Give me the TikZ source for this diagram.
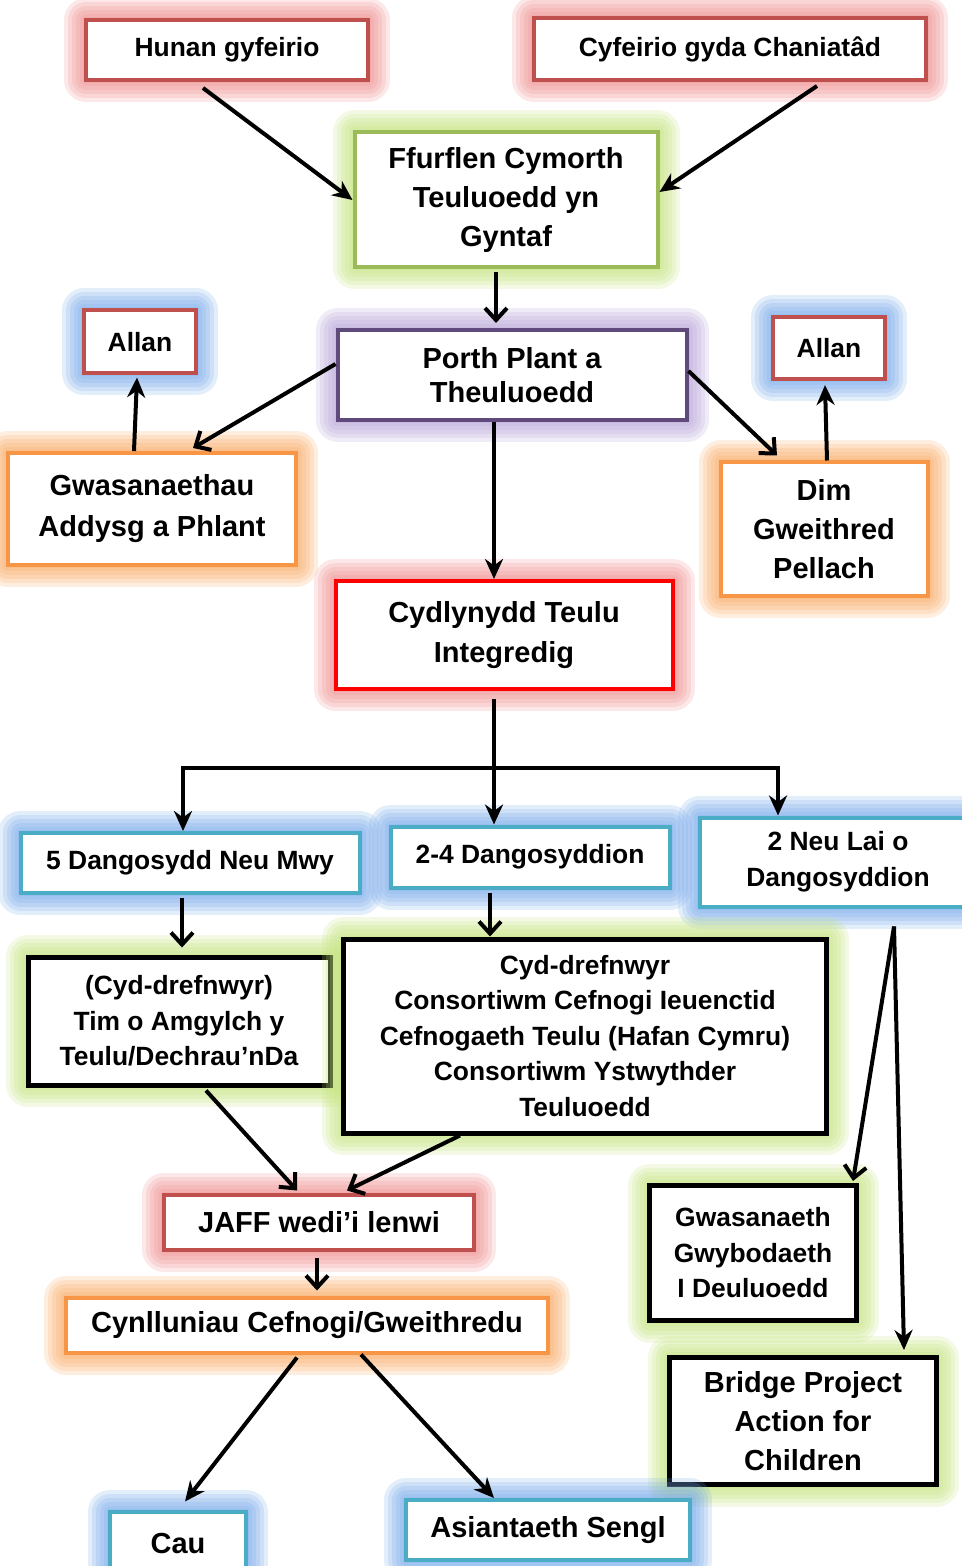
\documentclass[tikz,border=0pt]{standalone}
\usepackage{fontspec}
\setmainfont{Liberation Sans}
\usetikzlibrary{arrows.meta}

\definecolor{redline}{HTML}{C0504D}
\definecolor{greenline}{HTML}{9BBB59}
\definecolor{purpleline}{HTML}{604A7B}
\definecolor{orangeline}{HTML}{F79646}
\definecolor{tealline}{HTML}{4BACC6}
\definecolor{brightred}{HTML}{FF0000}
\definecolor{glowred}{HTML}{EE8B8B}
\definecolor{glowgreen}{HTML}{C2E27A}
\definecolor{glowpurple}{HTML}{B5A2D6}
\definecolor{glowblue}{HTML}{74A8E9}
\definecolor{gloworange}{HTML}{F9A860}

\begin{document}
\begin{tikzpicture}[x=0.5pt,y=-0.5pt,
    box/.style={draw=#1, fill=white, line width=2pt, align=center, inner sep=0pt},
    glowring/.style 2 args={preaction={draw=#1, draw opacity=.2, line width=#2, line join=round}},
    glow/.style={glowring={#1}{22pt}, glowring={#1}{18pt}, glowring={#1}{14pt},
                 glowring={#1}{10pt}, glowring={#1}{6pt}, glowring={#1}{3pt}},
    smalltxt/.style={font=\bfseries\fontsize{13.2}{17.75}\selectfont},
    bigtxt/.style={font=\bfseries\fontsize{14.5}{19.5}\selectfont},
    arr/.style={-{Stealth[length=10pt,width=9pt]}, line width=2pt},
    oarr/.style={-{Straight Barb[length=6pt,width=11pt]}, line width=2pt}]
    \useasboundingbox (0,0) rectangle (962,1566);

    % top row
    \node [box=redline, glow=glowred, smalltxt, minimum width=141pt, minimum height=30pt] (hunan) at (227,50) {Hunan gyfeirio};
    \node [box=redline, glow=glowred, smalltxt, minimum width=196pt, minimum height=31pt] (cyfe) at (730,49) {Cyfeirio gyda Chaniatâd};
    \node [box=greenline, glow=glowgreen, bigtxt, minimum width=151.5pt, minimum height=67.5pt] (ffurf) at (506,200) {Ffurflen Cymorth\\Teuluoedd yn\\Gyntaf};
    \node [box=purpleline, glow=glowpurple, font=\bfseries\fontsize{14.5}{17}\selectfont, minimum width=174.5pt, minimum height=45pt] (porth) at (512,375) {Porth Plant a\\Theuluoedd};
    \node [box=redline, glow=glowblue, smalltxt, minimum width=56pt, minimum height=31.5pt] (allanl) at (140,342) {Allan};
    \node [box=redline, glow=glowblue, smalltxt, minimum width=56pt, minimum height=31pt] (allanr) at (829,348) {Allan};
    \node [box=orangeline, glow=gloworange, font=\bfseries\fontsize{14.5}{20.5}\selectfont, minimum width=144pt, minimum height=56pt] (gwas) at (152,509) {Gwasanaethau\\Addysg a Phlant};
    \node [box=orangeline, glow=gloworange, bigtxt, minimum width=103.5pt, minimum height=66.5pt] (dim) at (824,529) {Dim\\Gweithred\\Pellach};
    \node [box=brightred, glow=glowred, font=\bfseries\fontsize{14.5}{20}\selectfont, minimum width=168.5pt, minimum height=54pt] (cyd) at (504,635) {Cydlynydd Teulu\\Integredig};

    % indicator row
    \coordinate (br) at (494,768);
    \node [box=tealline, glow=glowblue, smalltxt, minimum width=169.5pt, minimum height=30pt] (five) at (190,863) {5 Dangosydd Neu Mwy};
    \node [box=tealline, glow=glowblue, smalltxt, minimum width=139.5pt, minimum height=30.5pt] (two4) at (530,857) {2-4 Dangosyddion};
    \node [box=tealline, glow=glowblue, font=\bfseries\fontsize{13.2}{18}\selectfont, minimum width=138pt, minimum height=44.5pt] (twoless) at (838,862) {2 Neu Lai o\\Dangosyddion};

    % services
    \node [box=black, glow=glowgreen, line width=2.5pt, smalltxt, minimum width=151pt, minimum height=64pt] (tim) at (179,1021) {(Cyd-drefnwyr)\\Tim o Amgylch y\\Teulu/Dechrau’nDa};
    \node [box=black, glow=glowgreen, line width=2.5pt, smalltxt, minimum width=241.5pt, minimum height=97pt] (cydd) at (585,1036) {Cyd-drefnwyr\\Consortiwm Cefnogi Ieuenctid\\Cefnogaeth Teulu (Hafan Cymru)\\Consortiwm Ystwythder\\Teuluoedd};
    \node [box=black, glow=glowgreen, line width=2.5pt, smalltxt, minimum width=103.5pt, minimum height=67.5pt] (gwyb) at (753,1253) {Gwasanaeth\\Gwybodaeth\\I Deuluoedd};
    \node [box=black, glow=glowgreen, line width=2.5pt, bigtxt, minimum width=133.5pt, minimum height=63.5pt] (bridge) at (803,1421) {Bridge Project\\Action for\\Children};

    % bottom
    \node [box=redline, glow=glowred, bigtxt, minimum width=155pt, minimum height=27.5pt] (jaff) at (319,1222) {JAFF wedi’i lenwi};
    \node [box=orangeline, glow=gloworange, bigtxt, minimum width=241pt, minimum height=27.5pt] (cynll) at (307,1325) {Cynlluniau Cefnogi/Gweithredu};
    \node [box=tealline, glow=glowblue, bigtxt, minimum width=68pt, minimum height=31.5pt] (cau) at (178,1543) {Cau};
    \node [box=tealline, glow=glowblue, bigtxt, minimum width=142pt, minimum height=30pt] (asiant) at (548,1530) {Asiantaeth Sengl};

    \draw [arr] ([xshift=-12pt,yshift=-3pt]hunan.south) -- (ffurf.west);
    \draw [arr] ([xshift=43.5pt,yshift=-2pt]cyfe.south) -- ([yshift=4pt]ffurf.east);
    \draw [oarr] ([xshift=-5pt,yshift=-1.5pt]ffurf.south) -- ([xshift=-8pt,yshift=2.5pt]porth.north);
    \draw [oarr] ([yshift=5.5pt]porth.west) -- ([xshift=20.5pt,yshift=1.5pt]gwas.north);
    \draw [arr] ([xshift=-9pt]gwas.north) -- ([xshift=-1.5pt,yshift=-1pt]allanl.south);
    \draw [oarr] ([yshift=2pt]porth.east) -- ([xshift=-23.5pt,yshift=2.5pt]dim.north);
    \draw [arr] ([xshift=1.5pt]dim.north) -- ([xshift=-2pt,yshift=-2pt]allanr.south);
    \draw [arr] ([xshift=-9pt]porth.south) -- ([xshift=-5pt]cyd.north);
    \draw [arr] ([xshift=-5pt,yshift=-4pt]cyd.south) -- ([xshift=-18pt]two4.north);
    \draw [arr] (br) -| ([xshift=-3.5pt]five.north);
    \draw [arr] (br) -| ([xshift=-30pt]twoless.north);
    \draw [oarr] ([xshift=-4pt,yshift=-1.5pt]five.south) -- ([xshift=1.5pt,yshift=3.5pt]tim.north);
    \draw [oarr] ([xshift=-20pt,yshift=-1.5pt]two4.south) -- ([xshift=-47.5pt]cydd.north);
    \draw [oarr] ([xshift=13.5pt,yshift=-1.5pt]tim.south) -- ([xshift=-11pt,yshift=1pt]jaff.north);
    \draw [oarr] ([xshift=-62.5pt]cydd.south) -- ([xshift=14pt,yshift=1pt]jaff.north);
    \draw [oarr] ([xshift=28pt,yshift=-9pt]twoless.south) -- ([xshift=-3pt,yshift=1pt]gwyb.north east);
    \draw [arr] ([xshift=28pt,yshift=-9pt]twoless.south) -- ([xshift=50.5pt,yshift=2.5pt]bridge.north);
    \draw [oarr] ([xshift=-1pt,yshift=-3pt]jaff.south) -- ([xshift=5pt,yshift=2.5pt]cynll.north);
    \draw [arr] ([xshift=-5pt,yshift=-1.5pt]cynll.south) -- ([xshift=3.5pt,yshift=4pt]cau.north);
    \draw [arr] ([xshift=27pt]cynll.south) -- ([xshift=-27pt]asiant.north);
\end{tikzpicture}
\end{document}
